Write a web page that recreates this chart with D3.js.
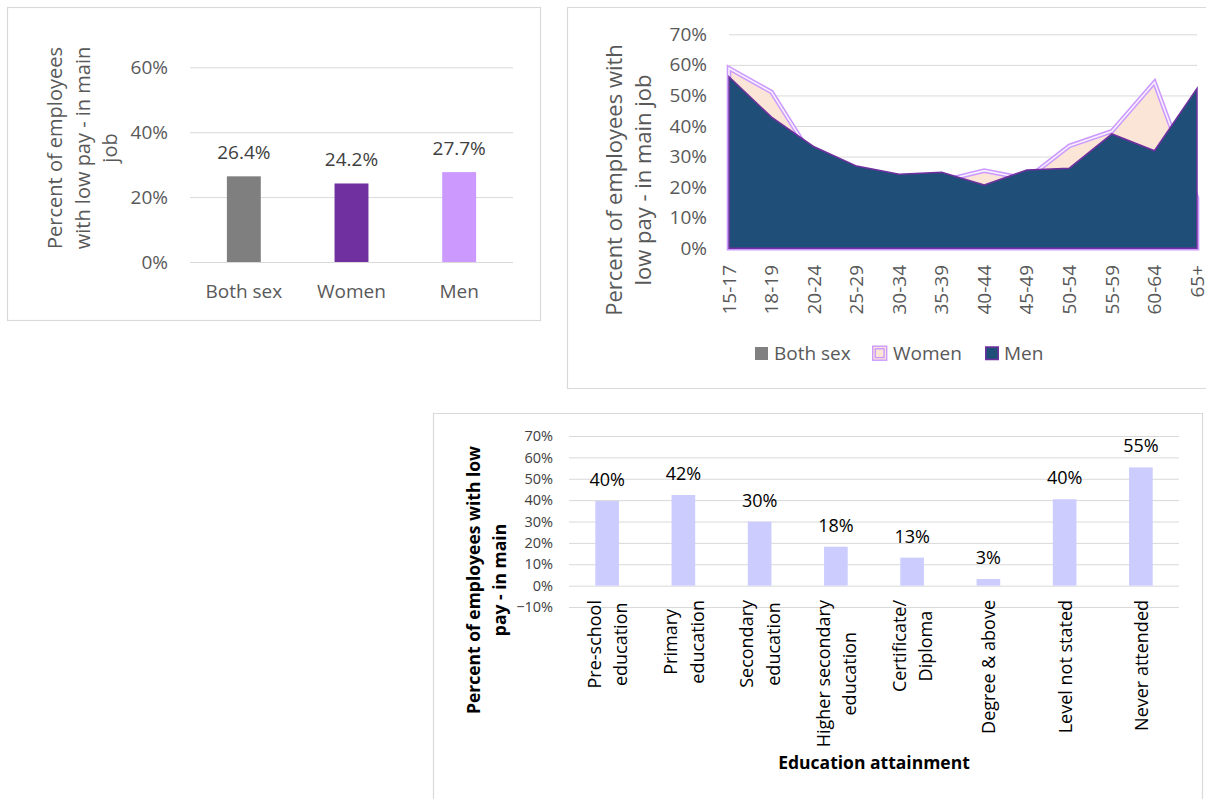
<!DOCTYPE html>
<html><head><meta charset="utf-8">
<script src="https://cdn.jsdelivr.net/npm/d3@7"></script>
<style>
html,body{margin:0;padding:0;background:#fff;}
svg{display:block;font-family:"Open Sans",sans-serif;}
</style></head>
<body>
<svg id="c" width="1214" height="799"></svg>
<script>
// ---------- DATA ----------
const sexCategories = ["Both sex", "Women", "Men"];
const sexValues = [0.264, 0.242, 0.277];
const sexValueLabels = ["26.4%", "24.2%", "27.7%"];
const sexColors = ["#7F7F7F", "#7030A0", "#CC99FF"];
const sexTicks = [0, 0.2, 0.4, 0.6];

const ageGroups = ["15-17","18-19","20-24","25-29","30-34","35-39","40-44","45-49","50-54","55-59","60-64","65+"];
const bothSexByAge = [0.575,0.46,0.31,0.26,0.235,0.235,0.23,0.24,0.295,0.378,0.40,0.36];
const womenByAge   = [0.589,0.511,0.29,0.25,0.22,0.22,0.254,0.227,0.335,0.383,0.543,0.165];
const menByAge     = [0.561,0.429,0.332,0.269,0.242,0.249,0.207,0.256,0.262,0.374,0.319,0.523];
const ageSeries = ["Both sex", "Women", "Men"];
const ageTicks = [0,0.1,0.2,0.3,0.4,0.5,0.6,0.7];

const eduCategories = ["Pre-school\neducation","Primary\neducation","Secondary\neducation","Higher secondary\neducation","Certificate/\nDiploma","Degree & above","Level not stated","Never attended"];
const eduValues = [0.396,0.424,0.299,0.182,0.131,0.031,0.404,0.553];
const eduTicks = [-0.1,0,0.1,0.2,0.3,0.4,0.5,0.6,0.7];

// ---------- SETUP ----------
const svg = d3.select("#c");
const pct = d3.format(".0%");
const grid = "#D9D9D9", txt = "#595959", border = "#D9D9D9";

function styleAxis(g, color, size, weight) {
  g.select(".domain").remove();
  g.selectAll(".tick line").attr("stroke", grid).attr("stroke-width", 1);
  g.selectAll(".tick text").attr("fill", color).style("font-size", size + "px")
    .style("font-family", '"Open Sans",sans-serif').attr("font-weight", weight || "normal");
}

// ---------- CHART 1 ----------
svg.append("rect").attr("x", 7.5).attr("y", 7.5).attr("width", 533).attr("height", 313)
  .attr("fill", "none").attr("stroke", border).attr("stroke-width", 1.2);

const x1 = d3.scaleBand().domain(sexCategories).range([190, 513]).paddingInner(0.685).paddingOuter(0.3425);
const y1 = d3.scaleLinear().domain([0, 0.6]).range([262, 67.3]);

svg.append("g").attr("transform", "translate(190,0)")
  .call(d3.axisLeft(y1).tickValues(sexTicks).tickFormat(pct).tickSize(-(513 - 190)).tickPadding(22))
  .call(g => styleAxis(g, txt, 19));

svg.append("g").selectAll("rect").data(sexCategories).join("rect")
  .attr("x", d => x1(d)).attr("width", x1.bandwidth())
  .attr("y", (d, i) => y1(sexValues[i])).attr("height", (d, i) => y1(0) - y1(sexValues[i]))
  .attr("fill", (d, i) => sexColors[i]);

svg.append("g").selectAll("text").data(sexCategories).join("text")
  .attr("x", d => x1(d) + x1.bandwidth() / 2).attr("y", (d, i) => y1(sexValues[i]) - 17)
  .attr("text-anchor", "middle").attr("fill", "#404040").style("font-size", "19px")
  .text((d, i) => sexValueLabels[i]);

svg.append("g").selectAll("text").data(sexCategories).join("text")
  .attr("x", d => x1(d) + x1.bandwidth() / 2).attr("y", 298)
  .attr("text-anchor", "middle").attr("fill", txt).style("font-size", "19px").text(d => d);

const t1 = svg.append("text").attr("transform", "translate(0,148) rotate(-90)")
  .attr("text-anchor", "middle").attr("fill", txt).style("font-size", "20px");
["Percent of employees", "with low pay - in main", "job"].forEach((s, i) =>
  t1.append("tspan").attr("x", 0).attr("y", 62 + i * 27.5).text(s));

// ---------- CHART 2 ----------
svg.append("path").attr("d", "M1206,7.5 H567.5 V388.5 H1206")
  .attr("fill", "none").attr("stroke", border).attr("stroke-width", 1.2);

const x2 = d3.scalePoint().domain(ageGroups).range([729, 1197]);
const y2 = d3.scaleLinear().domain([0, 0.7]).range([248.3, 34.3]);

svg.append("g").attr("transform", "translate(729,0)")
  .call(d3.axisLeft(y2).tickValues(ageTicks).tickFormat(pct).tickSize(-(1197 - 729)).tickPadding(22))
  .call(g => styleAxis(g, txt, 19));

const area2 = d3.area().x((d, i) => x2(ageGroups[i])).y0(y2(0)).y1(d => y2(d));
const closed = d => area2(d);

svg.append("path").attr("d", closed(bothSexByAge)).attr("fill", "#808080");
svg.append("path").attr("d", closed(womenByAge)).attr("fill", "#FBE5D6")
  .attr("stroke", "#CC99FF").attr("stroke-width", 4.6).attr("stroke-linejoin", "miter");
svg.append("path").attr("d", closed(womenByAge)).attr("fill", "none")
  .attr("stroke", "#FFFFFF").attr("stroke-opacity", 0.85).attr("stroke-width", 1.6);
svg.append("path").attr("d", closed(menByAge)).attr("fill", "#1F4E79")
  .attr("stroke", "#7030A0").attr("stroke-width", 1.5);

svg.append("g").selectAll("text").data(ageGroups).join("text")
  .attr("transform", d => `translate(${x2(d)},265) rotate(-90)`)
  .attr("text-anchor", "end").attr("dy", "0.35em").attr("fill", txt).style("font-size", "19px").text(d => d);

const t2 = svg.append("text").attr("transform", "translate(0,180) rotate(-90)")
  .attr("text-anchor", "middle").attr("fill", txt).style("font-size", "22px");
["Percent of employees with", "low pay - in main job"].forEach((s, i) =>
  t2.append("tspan").attr("x", 0).attr("y", 622 + i * 28.5).text(s));

// legend
const legX = [755, 872, 985], legTX = [774, 893, 1004];
const leg = svg.append("g");
leg.append("rect").attr("x", legX[0]).attr("y", 347).attr("width", 13).attr("height", 13).attr("fill", "#808080");
leg.append("rect").attr("x", legX[1] + 0.7).attr("y", 346.2).attr("width", 14).attr("height", 14)
  .attr("fill", "#FBE5D6").attr("stroke", "#CC99FF").attr("stroke-width", 1.4);
leg.append("rect").attr("x", legX[1] + 3.3).attr("y", 348.8).attr("width", 8.8).attr("height", 8.8)
  .attr("fill", "none").attr("stroke", "#CC99FF").attr("stroke-width", 1.4);
leg.append("rect").attr("x", legX[2] + 0.75).attr("y", 347).attr("width", 12.5).attr("height", 12.5)
  .attr("fill", "#1F4E79").attr("stroke", "#7030A0").attr("stroke-width", 1.5);
leg.selectAll("text.l").data(ageSeries).join("text").attr("class", "l")
  .attr("x", (d, i) => legTX[i]).attr("y", 360).attr("fill", txt).style("font-size", "19px").text(d => d);

// ---------- CHART 3 ----------
svg.append("path").attr("d", "M433.5,799 V413.5 H1202.5 V799")
  .attr("fill", "none").attr("stroke", border).attr("stroke-width", 1.2);

const x3 = d3.scaleBand().domain(eduCategories).range([569, 1179]).paddingInner(0.69).paddingOuter(0.345);
const y3 = d3.scaleLinear().domain([-0.1, 0.7]).range([607, 436]);

svg.append("g").attr("transform", "translate(569,0)")
  .call(d3.axisLeft(y3).tickValues(eduTicks).tickFormat(pct).tickSize(-(1179 - 569)).tickPadding(16))
  .call(g => styleAxis(g, "#404040", 14.5));

svg.append("g").selectAll("rect").data(eduCategories).join("rect")
  .attr("x", d => x3(d)).attr("width", x3.bandwidth())
  .attr("y", (d, i) => y3(eduValues[i])).attr("height", (d, i) => y3(0) - y3(eduValues[i]))
  .attr("fill", "#CCCCFF");

svg.append("g").selectAll("text").data(eduCategories).join("text")
  .attr("x", d => x3(d) + x3.bandwidth() / 2).attr("y", (d, i) => y3(eduValues[i]) - 15)
  .attr("text-anchor", "middle").attr("fill", "#000").style("font-size", "18px")
  .text((d, i) => pct(eduValues[i]));

const xl = svg.append("g");
eduCategories.forEach(cat => {
  const lines = cat.split("\n");
  const cx = x3(cat) + x3.bandwidth() / 2;
  const g = xl.append("g");
  const texts = lines.map((s, i) => g.append("text").attr("text-anchor", "middle")
    .attr("fill", "#000").style("font-size", "18px").text(s));
  const maxLen = d3.max(texts, t => t.node().getComputedTextLength());
  const cy = 600 + maxLen / 2;
  texts.forEach((t, i) => {
    const bx = cx + (i - (lines.length - 1) / 2) * 26.6 + 7;
    t.attr("transform", `translate(${bx},${cy}) rotate(-90)`);
  });
});

const t3 = svg.append("text").attr("transform", "translate(0,580) rotate(-90)")
  .attr("text-anchor", "middle").attr("fill", "#000").attr("font-weight", "bold").style("font-size", "17.5px");
["Percent of employees with low", "pay - in main"].forEach((s, i) =>
  t3.append("tspan").attr("x", 0).attr("y", 480 + i * 26).text(s));

svg.append("text").attr("x", 874).attr("y", 769).attr("text-anchor", "middle")
  .attr("fill", "#000").attr("font-weight", "bold").style("font-size", "17.5px").text("Education attainment");
</script>
</body></html>
